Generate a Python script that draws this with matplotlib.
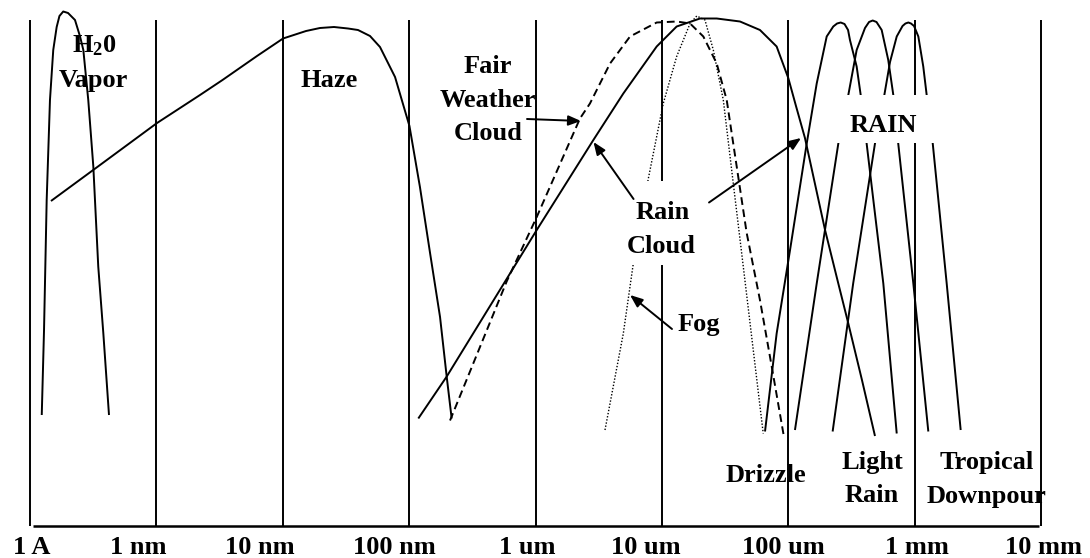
import matplotlib.pyplot as plt
from matplotlib.patches import Rectangle

plt.rcParams['font.family'] = ['Liberation Serif', 'DejaVu Serif']
plt.rcParams['font.weight'] = 'bold'
plt.rcParams['mathtext.fontset'] = 'custom'
plt.rcParams['mathtext.rm'] = 'Liberation Serif:bold'
plt.rcParams['mathtext.it'] = 'Liberation Serif:bold'
plt.rcParams['mathtext.bf'] = 'Liberation Serif:bold'

# x = log10(diameter in um), y = relative amount (arbitrary units)
decades = [-4, -3, -2, -1, 0, 1, 2, 3, 4]
tick_labels = ['1 A', '1 nm', '10 nm', '100 nm', '1 um', '10 um', '100 um', '1 mm', '10 mm']
label_x = [-3.984, -3.146, -2.180, -1.116, -0.068, 0.873, 1.957, 3.017, 4.022]
base = 2.1

vapor_x = [-3.907, -3.889, -3.868, -3.842, -3.816, -3.789, -3.767, -3.737, -3.699, -3.644,
           -3.604, -3.578, -3.539, -3.499, -3.460, -3.420, -3.375]
vapor_y = [24.3, 41.3, 67.3, 87.3, 97.3, 101.9, 104.1, 105.0, 104.7, 103.3,
           100.0, 97.3, 87.3, 74.0, 54.0, 40.7, 24.3]

haze_x = [-3.834, -3.446, -2.995, -2.655, -2.477, -2.204, -1.998, -1.816, -1.706, -1.595,
          -1.484, -1.405, -1.310, -1.231, -1.112, -0.998, -0.915, -0.835, -0.756, -0.703,
          -0.664]
haze_y = [67.1, 74.3, 82.7, 88.3, 91.3, 96.1, 99.6, 101.1, 101.7, 101.9,
          101.6, 101.3, 100.1, 97.9, 91.9, 82.1, 69.9, 56.7, 43.9, 31.9,
          23.6]

rain_cloud_x = [-0.928, -0.703, 0.009, 0.457, 0.694, 0.958, 1.116, 1.301, 1.433, 1.617,
                1.775, 1.907, 1.999, 2.060, 2.131, 2.290, 2.388, 2.474, 2.582, 2.685]
rain_cloud_y = [23.6, 32.0, 61.3, 79.3, 88.6, 98.0, 102.0, 103.6, 103.6, 103.0,
                101.3, 98.0, 91.7, 86.1, 79.7, 61.3, 51.3, 42.6, 31.3, 20.1]

fair_x = [-0.677, -0.229, 0.009, 0.351, 0.430, 0.589, 0.747, 0.958, 1.116, 1.222,
          1.327, 1.433, 1.512, 1.591, 1.670, 1.775, 1.868, 1.965]
fair_y = [23.2, 51.0, 63.9, 83.6, 86.6, 94.6, 100.0, 102.8, 103.0, 102.6,
          100.0, 94.6, 87.3, 74.0, 60.7, 47.3, 34.0, 19.9]

fog_x = [0.549, 0.694, 0.773, 0.892, 1.010, 1.116, 1.222, 1.275, 1.340, 1.406,
         1.485, 1.564, 1.643, 1.722, 1.801]
fog_y = [21.3, 40.6, 54.6, 71.6, 86.6, 96.0, 102.6, 104.1, 103.3, 97.3,
         87.3, 70.6, 54.0, 37.3, 20.6]

# three narrow rain distributions
rain1_x = [1.815, 1.907, 2.013, 2.145, 2.224, 2.303, 2.355, 2.385, 2.414, 2.444,
           2.472, 2.487, 2.540, 2.572, 2.619, 2.672, 2.751, 2.857]
rain1_y = [21.0, 40.6, 57.3, 78.6, 90.6, 100.0, 102.0, 102.6, 102.8, 102.5,
           101.3, 99.3, 94.0, 88.3, 78.6, 67.3, 50.6, 20.6]
rain2_x = [2.052, 2.224, 2.395, 2.474, 2.540, 2.606, 2.638, 2.667, 2.697, 2.738,
           2.790, 2.830, 2.869, 2.988, 3.107]
rain2_y = [21.3, 50.6, 78.6, 88.3, 97.3, 101.7, 102.9, 103.2, 102.9, 101.3,
           95.3, 88.3, 78.6, 50.7, 21.0]
rain3_x = [2.350, 2.513, 2.685, 2.759, 2.804, 2.857, 2.903, 2.926, 2.949, 2.970,
           2.994, 3.028, 3.067, 3.094, 3.142, 3.252, 3.363]
rain3_y = [21.0, 50.7, 78.6, 88.3, 94.9, 100.0, 102.1, 102.6, 102.8, 102.6,
           102.1, 100.0, 94.0, 88.3, 78.6, 50.7, 21.3]

fig = plt.figure(figsize=(10.9, 5.58), dpi=100)
ax = fig.add_axes([0, 0, 1, 1])
ax.set_xlim(-4.2373, 4.3861)
ax.set_ylim(-4.3, 107.3)
ax.axis('off')

# decade lines and base line
ax.vlines(decades, base, 103.2, color='black', lw=1.4, zorder=1)
ax.hlines(base, -3.976, 3.983, color='black', lw=1.8, zorder=1)

kw = dict(color='black', lw=1.4, zorder=2, solid_capstyle='butt', solid_joinstyle='round')
ax.plot(vapor_x, vapor_y, **kw)
ax.plot(haze_x, haze_y, **kw)
ax.plot(rain_cloud_x, rain_cloud_y, **kw)
ax.plot(fair_x, fair_y, color='black', lw=1.4, dashes=(4, 2.3), zorder=2)
ax.plot(fog_x, fog_y, color='black', lw=1.0, dashes=(1, 1.3), zorder=2)
ax.plot(rain1_x, rain1_y, **kw)
ax.plot(rain2_x, rain2_y, **kw)
ax.plot(rain3_x, rain3_y, **kw)

# white boxes behind the labels that sit on top of the curves
ax.add_patch(Rectangle((2.377, 78.7), 0.775, 9.6, facecolor='white', edgecolor='none', zorder=3))
ax.add_patch(Rectangle((0.699, 54.3), 0.649, 16.8, facecolor='white', edgecolor='none', zorder=3))

fs = 19
def label(x, y, s):
    ax.text(x, y, s, ha='center', va='baseline', fontsize=fs, fontweight='bold', zorder=4)

label(-3.494, 96.9, 'H$_2$0')
label(-3.502, 89.9, 'Vapor')
label(-1.634, 89.9, 'Haze')
label(-0.377, 92.7, 'Fair')
label(-0.377, 85.9, 'Weather')
label(-0.377, 79.3, 'Cloud')
label(1.008, 63.4, 'Rain')
label(0.990, 56.6, 'Cloud')
label(2.752, 80.9, 'RAIN')
label(1.293, 41.1, 'Fog')
label(1.820, 10.8, 'Drizzle')
label(2.661, 13.5, 'Light')
label(2.657, 6.8, 'Rain')
label(3.567, 13.5, 'Tropical')
label(3.571, 6.8, 'Downpour')

for x, s in zip(label_x, tick_labels):
    ax.text(x, -3.6, s, ha='center', va='baseline', fontsize=fs, fontweight='bold')

# arrows pointing at the curves
arrow = dict(arrowstyle='-|>,head_length=0.5,head_width=0.2', mutation_scale=15,
             color='black', lw=1.4, shrinkA=0, shrinkB=0)
ax.annotate('', xy=(0.359, 83.1), xytext=(-0.068, 83.5), arrowprops=arrow, zorder=5)
ax.annotate('', xy=(0.458, 78.9), xytext=(0.775, 67.5), arrowprops=arrow, zorder=5)
ax.annotate('', xy=(2.100, 79.7), xytext=(1.372, 66.8), arrowprops=arrow, zorder=5)
ax.annotate('', xy=(0.747, 48.3), xytext=(1.079, 41.5), arrowprops=arrow, zorder=5)

plt.savefig('out.png', dpi=100)
